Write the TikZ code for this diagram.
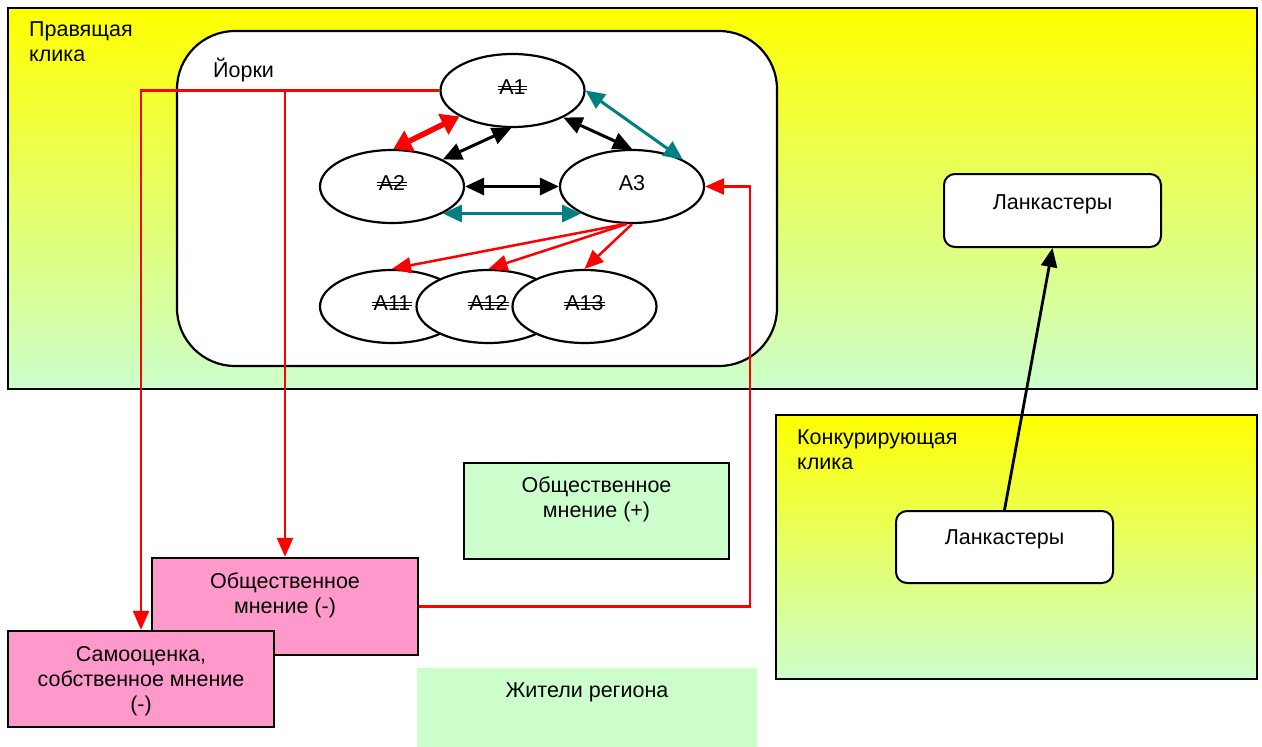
\documentclass[tikz,border=0pt]{standalone}
\usepackage{fontspec}
\setmainfont{Liberation Sans}
\usetikzlibrary{arrows.meta,shapes.geometric}
\definecolor{ygreen}{RGB}{204,255,204}
\definecolor{pinkbox}{RGB}{255,153,204}
\definecolor{tealc}{RGB}{0,128,128}
\newcommand\dstrike[1]{\setbox0=\hbox{#1}\makebox[0pt][l]{\kern-1.5pt\rule[0.2em]{\dimexpr\wd0+3pt}{0.9pt}}\makebox[0pt][l]{\kern-1.5pt\rule[0.31em]{\dimexpr\wd0+3pt}{0.9pt}}\box0}
\tikzset{
  txt/.style={inner sep=0pt, font=\fontsize{21.5}{25}\selectfont, align=center},
  grad/.style={draw=black, line width=2pt, top color=yellow, bottom color=ygreen, rectangle, inner sep=0pt},
  ell/.style={ellipse, draw=black, line width=2.2pt, fill=white, minimum width=144pt, minimum height=73pt, inner sep=0pt, font=\fontsize{21.5}{25}\selectfont, text height=15pt, text depth=8pt},
  pbox/.style={rectangle, draw=black, line width=2.4pt, fill=pinkbox, inner sep=0pt},
  gbox/.style={rectangle, draw=black, line width=2.2pt, fill=ygreen, inner sep=0pt},
  rbox/.style={rectangle, draw=black, line width=2pt, fill=white, rounded corners=11pt, inner sep=0pt},
  blk/.style={draw=black, line width=3pt, {Triangle[length=19pt,width=17pt]}-{Triangle[length=19pt,width=17pt]}},
  tl/.style={draw=tealc, line width=3pt, {Triangle[length=19pt,width=17pt]}-{Triangle[length=19pt,width=17pt]}},
  redthick/.style={draw=red, line width=5.5pt, {Triangle[length=18pt,width=22pt]}-{Triangle[length=18pt,width=22pt]}},
  redarr/.style={draw=red, line width=2.5pt, -{Triangle[length=19pt,width=16pt]}},
}
\begin{document}
\begin{tikzpicture}[x=1pt,y=-1pt]
\useasboundingbox (0,0) rectangle (1262,747);
% big containers
\node[grad, minimum width=1249pt, minimum height=381pt] (rule) at (632.5,198.5) {};
\node[txt, align=left, anchor=north west] (ruletxt) at (29,22) {Правящая\\клика};
\node[grad, minimum width=481pt, minimum height=264pt] (comp) at (1016.5,547) {};
\node[txt, align=left, anchor=north west] (comptxt) at (797,430) {Конкурирующая\\клика};
\node[rectangle, draw=black, line width=2.2pt, fill=white, rounded corners=58pt, minimum width=600pt, minimum height=335pt] (york) at (477,198.5) {};
\node[txt, anchor=base west] (yorktxt) at (213,77) {Йорки};
% bottom boxes
\node[rectangle, fill=ygreen, minimum width=340pt, minimum height=82pt, inner sep=0pt] (resid) at (587,709) {};
\node[txt, anchor=base] (residtxt) at (587,697) {Жители региона};
\node[gbox, minimum width=265pt, minimum height=96pt] (opplus) at (596.5,511) {};
\node[txt, anchor=north] (opplustxt) at (596.5,477) {Общественное\\мнение (+)};
\node[pbox, minimum width=266pt, minimum height=97pt] (opminus) at (285,606.5) {};
\node[txt, anchor=north] (opminustxt) at (285,573) {Общественное\\мнение (-)};
\node[pbox, minimum width=266pt, minimum height=96pt] (self) at (141,679) {};
\node[txt, anchor=north] (selftxt) at (141,646) {Самооценка,\\собственное мнение\\(-)};
% Lancasters
\node[rbox, minimum width=217pt, minimum height=73pt] (lanc1) at (1052.5,210.5) {};
\node[txt, anchor=base] (lanc1txt) at (1052.5,209) {Ланкастеры};
\node[rbox, minimum width=217pt, minimum height=72pt] (lanc2) at (1004.5,547) {};
\node[txt, anchor=base] (lanc2txt) at (1004.5,544) {Ланкастеры};
% ellipses
\node[ell] (A1) at (512.5,90.5) {\dstrike{A1}};
\node[ell] (A2) at (392,186.5) {\dstrike{A2}};
\node[ell] (A3) at (632,186.5) {A3};
\node[ell] (A11) at (392,306.5) {\dstrike{A11}};
\node[ell] (A12) at (488.5,306.5) {\dstrike{A12}};
\node[ell] (A13) at (584.5,306.5) {\dstrike{A13}};
% arrows among ellipses
\draw[redthick] (A2.88) -- (A1.206);
\draw[blk] (A2.28) -- (A1.268);
\draw[blk] (A1.332) -- (A3.90);
\draw[tl] (A1.0) -- (A3.28);
\draw[blk] (A2.east) -- (A3.west);
\draw[tl] (A2.332) -- (A3.208);
\draw[redarr] (A3.260) -- (A11.north);
\draw[redarr] (A3.262) -- (A12.north);
\draw[redarr] (A3.270) -- (A13.north);
% red feedback lines
\coordinate (j2) at (opminus.north |- A1.west);
\draw[redarr] (A1.west) -| (self.north);
\draw[redarr] (j2) -- (opminus.north);
\coordinate (rr) at (750,0);
\draw[redarr] (opminus.east) -| (rr |- A3.east) -- (A3.east);
% Lancasters arrow
\draw[draw=black, line width=2.8pt, -{Triangle[length=19pt,width=16pt]}] (lanc2.north) -- (lanc1.south);
\end{tikzpicture}
\end{document}
